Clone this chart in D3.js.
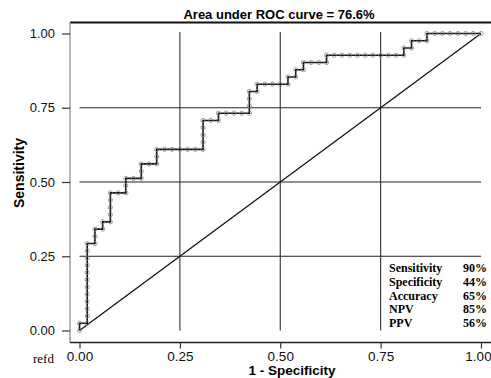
<!DOCTYPE html>
<html>
<head>
<meta charset="utf-8">
<script src="https://cdn.jsdelivr.net/npm/d3@7"></script>
<style>
	body { margin: 0; background: #fff; }
	svg { display: block; }
</style>
</head>
<body>
<div id="chart"></div>
<script>
// counts of negatives / positives in the sample
var nNeg = 52,
	nPos = 41;

// cumulative false positives and true positives at each cutoff
var falsePos = [0,0,1,1,1,1,1,1,1,1,1,1,1,1,
	2,2,2, 3,3, 4,4,4,4,4, 5,6,6,6, 7,8,8,8, 9,10,10,10,
	11,12,13,14,15,16,16,16,16,16, 17,18,18, 19,20,21,22,22,22,22,
	23,23, 24,25,26,27,27, 28,28, 29,29, 30,31,32,32,
	33,34,35,36,37,38,39,40,41,42,42, 43,43, 44,45,45,
	46,47,48,49,50,51,52];
var truePos = [0,1,1,2,3,4,5,6,7,8,9,10,11,12,
	12,13,14, 14,15, 15,16,17,18,19, 19,19,20,21, 21,21,22,23, 23,23,24,25,
	25,25,25,25,25,25,26,27,28,29, 29,29,30, 30,30,30,30,31,32,33,
	33,34, 34,34,34,34,35, 35,36, 36,37, 37,37,37,38,
	38,38,38,38,38,38,38,38,38,38,39, 39,40, 40,40,41,
	41,41,41,41,41,41,41];

var tickValues = [0, 0.25, 0.5, 0.75, 1];
var gridValues = [0.25, 0.5, 0.75];

var statNames = ['Sensitivity', 'Specificity', 'Accuracy', 'NPV', 'PPV'];
var statValues = ['90%', '44%', '65%', '85%', '56%'];

var titleText = 'Area under ROC curve = 76.6%';

var width = 491,
	height = 378;

var points = falsePos.map(function(fp, i) {
	return { fpr: fp / nNeg, sens: truePos[i] / nPos };
});

var x = d3.scaleLinear().domain([0, 1]).range([79.5, 481]);
var y = d3.scaleLinear().domain([0, 1]).range([330.5, 33.5]);

var svg = d3.select('#chart').append('svg')
	.attr('width', width)
	.attr('height', height);

var sans = 'Liberation Sans, Arial, sans-serif',
	serif = 'Liberation Serif, Times New Roman, serif';

// frame: top border, left axis, bottom axis
svg.append('line')
	.attr('x1', 70).attr('x2', 491).attr('y1', 22.5).attr('y2', 22.5)
	.attr('stroke', '#111').attr('stroke-width', 1.8);
svg.append('line')
	.attr('x1', 70).attr('x2', 70).attr('y1', 22).attr('y2', 342.5)
	.attr('stroke', '#888').attr('stroke-width', 1.2);
svg.append('line')
	.attr('x1', 70).attr('x2', 491).attr('y1', 342.5).attr('y2', 342.5)
	.attr('stroke', '#222').attr('stroke-width', 1.3);

// y axis
var yAxis = svg.append('g')
	.attr('transform', 'translate(70,0)')
	.call(d3.axisLeft(y).tickValues(tickValues).tickSize(8).tickPadding(7)
		.tickFormat(d3.format('.2f')));
yAxis.select('.domain').remove();
yAxis.selectAll('line').attr('stroke', '#333').attr('stroke-width', 1.2);
yAxis.selectAll('text')
	.attr('fill', '#111')
	.style('font-family', sans)
	.style('font-size', '13px');

// x axis
var xAxis = svg.append('g')
	.attr('transform', 'translate(0,342.5)')
	.call(d3.axisBottom(x).tickValues(tickValues).tickSize(6).tickPadding(3)
		.tickFormat(d3.format('.2f')));
xAxis.select('.domain').remove();
xAxis.selectAll('line').attr('stroke', '#333').attr('stroke-width', 1.2);
xAxis.selectAll('text')
	.attr('fill', '#111')
	.attr('dx', function(d) { return d === 1 ? -3 : 0; })
	.style('font-family', sans)
	.style('font-size', '13.5px');

// reference grid
svg.append('g').selectAll('line.h').data(gridValues).enter()
	.append('line')
	.attr('x1', x(0)).attr('x2', x(1))
	.attr('y1', function(d) { return y(d); })
	.attr('y2', function(d) { return y(d); })
	.attr('stroke', '#222').attr('stroke-width', 1.2);
svg.append('g').selectAll('line.v').data(gridValues).enter()
	.append('line')
	.attr('y1', y(0)).attr('y2', y(1.005))
	.attr('x1', function(d) { return x(d); })
	.attr('x2', function(d) { return x(d); })
	.attr('stroke', '#333').attr('stroke-width', 1.1);

// chance diagonal
svg.append('line')
	.attr('x1', x(0)).attr('y1', y(0))
	.attr('x2', x(1)).attr('y2', y(1))
	.attr('stroke', '#111').attr('stroke-width', 1.3);

// ROC curve
var line = d3.line()
	.x(function(d) { return x(d.fpr); })
	.y(function(d) { return y(d.sens); });

svg.append('path')
	.datum(points)
	.attr('d', line)
	.attr('fill', 'none')
	.attr('stroke', '#111')
	.attr('stroke-width', 1.6);

svg.append('g').selectAll('circle').data(points).enter()
	.append('circle')
	.attr('cx', function(d) { return x(d.fpr); })
	.attr('cy', function(d) { return y(d.sens); })
	.attr('r', 2.1)
	.attr('fill', 'none')
	.attr('stroke', '#888')
	.attr('stroke-width', 0.8);

// titles
svg.append('text')
	.attr('x', 279).attr('y', 18.5)
	.attr('text-anchor', 'middle')
	.style('font-family', sans).style('font-weight', 'bold').style('font-size', '13px')
	.text(titleText);

svg.append('text')
	.attr('x', 292).attr('y', 375)
	.attr('text-anchor', 'middle')
	.style('font-family', sans).style('font-weight', 'bold').style('font-size', '13.5px')
	.text('1 - Specificity');

svg.append('text')
	.attr('transform', 'translate(24,173) rotate(-90)')
	.attr('text-anchor', 'middle')
	.style('font-family', sans).style('font-weight', 'bold').style('font-size', '14px')
	.text('Sensitivity');

svg.append('text')
	.attr('x', 33).attr('y', 362.5)
	.style('font-family', serif).style('font-size', '13px')
	.text('refd');

// stats box
var stats = svg.append('g');
stats.selectAll('text.name').data(statNames).enter()
	.append('text')
	.attr('x', 389)
	.attr('y', function(d, i) { return 272 + i * 13.8; })
	.style('font-family', serif).style('font-weight', 'bold').style('font-size', '12px')
	.text(function(d) { return d; });
stats.selectAll('text.val').data(statValues).enter()
	.append('text')
	.attr('x', 487)
	.attr('y', function(d, i) { return 272 + i * 13.8; })
	.attr('text-anchor', 'end')
	.style('font-family', serif).style('font-weight', 'bold').style('font-size', '12px')
	.text(function(d) { return d; });
</script>
</body>
</html>
